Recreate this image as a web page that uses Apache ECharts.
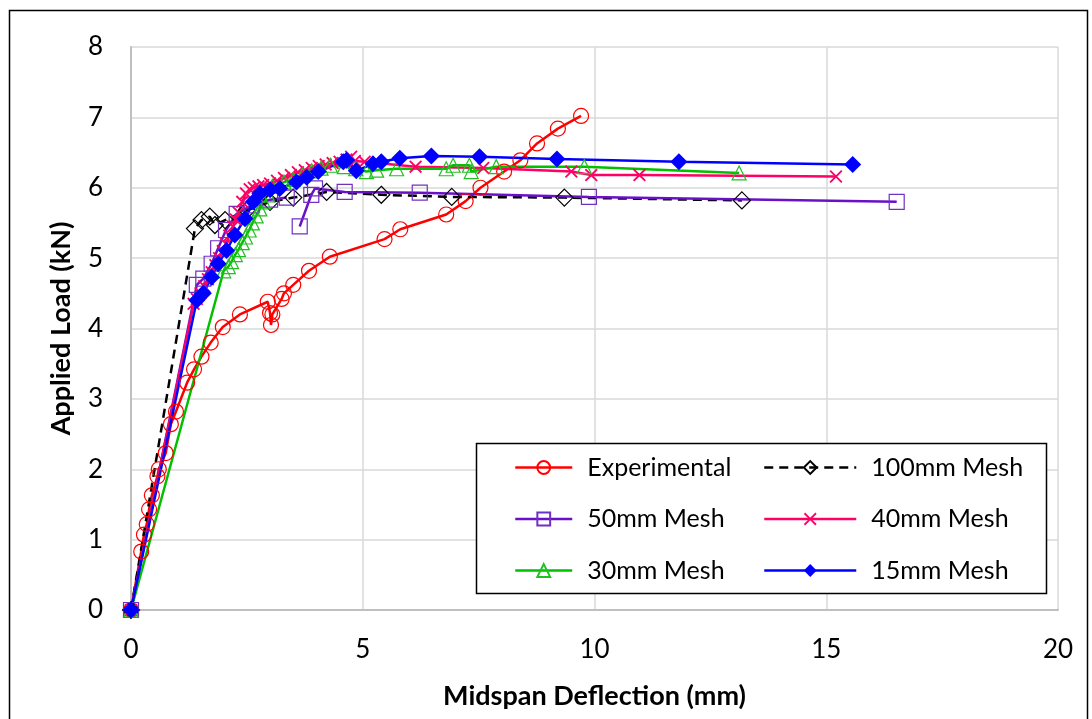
<!DOCTYPE html>
<html>
<head>
<meta charset="utf-8">
<script src="https://cdn.jsdelivr.net/npm/echarts@6/dist/echarts.min.js"></script>
<style>
  html, body { margin: 0; padding: 0; background: #fff; }
  #chart { width: 1092px; height: 719px; }
</style>
</head>
<body>
<div id="chart"></div>
<script>
// 数据：挠度 (mm) 与荷载 (kN)
const expX = [0, 0.22, 0.28, 0.34, 0.39, 0.45, 0.57, 0.6, 0.75, 0.86, 0.97, 1.21, 1.36, 1.52, 1.72, 1.98, 2.35, 2.95, 3.0, 3.02, 3.05, 3.25, 3.3, 3.5, 3.84, 4.29, 5.47, 5.81, 6.8, 7.22, 7.54, 8.05, 8.4, 8.76, 9.21, 9.71];
const expY = [0, 0.83, 1.07, 1.22, 1.43, 1.63, 1.9, 2.0, 2.23, 2.64, 2.82, 3.23, 3.42, 3.6, 3.8, 4.02, 4.2, 4.38, 4.22, 4.05, 4.2, 4.42, 4.5, 4.62, 4.82, 5.02, 5.27, 5.41, 5.62, 5.81, 6.0, 6.23, 6.39, 6.63, 6.84, 7.02];

const m100X = [0, 1.38, 1.52, 1.70, 1.81, 2.03, 2.5, 3.0, 3.5, 4.22, 5.4, 6.92, 9.35, 13.18];
const m100Y = [0, 5.42, 5.54, 5.59, 5.47, 5.54, 5.68, 5.8, 5.86, 5.94, 5.9, 5.87, 5.86, 5.82];

const m50X = [0, 1.42, 1.56, 1.74, 1.88, 2.05, 2.28, 2.6, 3.0, 3.36, null, 3.64, 3.89, 3.97, 4.61, 6.23, 9.88, 16.52];
const m50Y = [0, 4.62, 4.71, 4.92, 5.14, 5.4, 5.63, 5.75, 5.83, 5.86, null, 5.45, 5.9, 5.99, 5.94, 5.93, 5.87, 5.8];

const m40X = [0, 1.35, 1.42, 1.5, 1.58, 1.66, 1.74, 1.82, 1.9, 1.98, 2.05, 2.12, 2.2, 2.26, 2.32, 2.4, 2.48, 2.56, 2.65, 2.75, 2.85, 3.0, 3.15, 3.3, 3.45, 3.6, 3.75, 3.9, 4.05, 4.2, 4.35, 4.5, 4.65, 4.75, 4.83, 5.04, 6.14, 7.6, 9.5, 9.93, 10.97, 15.21];
const m40Y = [0, 4.35, 4.42, 4.5, 4.6, 4.7, 4.8, 4.9, 5.0, 5.1, 5.2, 5.32, 5.45, 5.55, 5.65, 5.8, 5.92, 5.98, 6.0, 6.02, 6.04, 6.06, 6.1, 6.14, 6.18, 6.22, 6.25, 6.28, 6.31, 6.33, 6.35, 6.37, 6.4, 6.44, 6.38, 6.37, 6.3, 6.28, 6.23, 6.18, 6.18, 6.16];

const m30X = [0, 2.0, 2.1, 2.17, 2.25, 2.32, 2.4, 2.47, 2.55, 2.62, 2.7, 2.78, 2.86, 2.95, 3.05, 3.3, 3.5, 3.7, 3.9, 4.1, 4.3, 4.6, 4.85, 5.08, 5.3, 5.73, 6.8, 6.95, 7.3, 7.34, 7.88, 9.78, 13.12];
const m30Y = [0, 4.82, 4.88, 4.95, 5.05, 5.12, 5.22, 5.3, 5.4, 5.5, 5.6, 5.7, 5.8, 5.9, 6.02, 6.08, 6.12, 6.18, 6.24, 6.28, 6.32, 6.3, 6.27, 6.23, 6.25, 6.27, 6.27, 6.32, 6.32, 6.23, 6.3, 6.3, 6.21];

const m15X = [0, 1.42, 1.56, 1.74, 1.88, 2.06, 2.24, 2.46, 2.64, 2.78, 3.0, 3.21, 3.57, 3.79, 4.04, 4.58, 4.65, 4.86, 5.22, 5.4, 5.8, 6.48, 7.52, 9.19, 11.82, 15.57];
const m15Y = [0, 4.4, 4.5, 4.73, 4.92, 5.11, 5.33, 5.56, 5.8, 5.92, 5.97, 5.99, 6.08, 6.15, 6.23, 6.37, 6.39, 6.24, 6.34, 6.37, 6.42, 6.45, 6.44, 6.41, 6.37, 6.33];

const xTicks = [0, 5, 10, 15, 20];
const yTicks = [0, 1, 2, 3, 4, 5, 6, 7, 8];

const pair = (xs, ys) => xs.map((x, i) => (x === null ? [null, null] : [x, ys[i]]));

const FONT = 'Lato';
const crossPath = 'path://M0,1L1,0L5,4L9,0L10,1L6,5L10,9L9,10L5,6L1,10L0,9L4,5Z';

const chart = echarts.init(document.getElementById('chart'));

function lineSeries(name, data, color, symbol, size, extra) {
  return Object.assign({
    name: name,
    type: 'line',
    data: data,
    symbol: symbol,
    symbolSize: size,
    showAllSymbol: true,
    connectNulls: false,
    animation: false,
    lineStyle: { color: color, width: 2.5 },
    itemStyle: { color: 'rgba(0,0,0,0)', borderColor: color, borderWidth: 1.2 },
  }, extra || {});
}

const legendText = { fontFamily: FONT, fontSize: 25, color: '#000', padding: [0, 0, 0, 10] };

const option = {
  backgroundColor: '#fff',
  animation: false,
  grid: { left: 131, right: 34, top: 47, bottom: 109 },
  graphic: [
    { type: 'rect', shape: { x: 9.5, y: 10.5, width: 1078, height: 712 }, style: { fill: 'none', stroke: '#000', lineWidth: 1.5 }, z: 100 },
    { type: 'rect', shape: { x: 476.5, y: 443.5, width: 570, height: 150 }, style: { fill: '#fff', stroke: '#000', lineWidth: 1.5 }, z: 50 },
  ],
  legend: [
    {
      orient: 'vertical', left: 509, top: 450, itemWidth: 57, itemHeight: 16, itemGap: 26.5,
      textStyle: legendText, lineStyle: { width: 2.5 }, z: 60,
      data: ['Experimental', '50mm Mesh', '30mm Mesh'],
    },
    {
      orient: 'vertical', left: 758, top: 450, itemWidth: 92, itemHeight: 16, itemGap: 26.5,
      textStyle: legendText, lineStyle: { width: 2.5 }, z: 60,
      data: ['100mm Mesh', '40mm Mesh', '15mm Mesh'],
    },
  ],
  xAxis: {
    type: 'value', min: 0, max: 20, interval: 5,
    name: 'Midspan Deflection (mm)', nameLocation: 'middle', nameGap: 73,
    nameTextStyle: { fontFamily: FONT, fontSize: 27, fontWeight: 'bold', color: '#000' },
    axisLine: { show: true, onZero: false, lineStyle: { color: '#bfbfbf', width: 2 } },
    axisTick: { show: false },
    axisLabel: { fontFamily: FONT, fontSize: 26, color: '#000', margin: 27,
      formatter: v => (xTicks.includes(v) ? String(v) : '') },
    splitLine: { show: true, lineStyle: { color: '#d9d9d9', width: 1.5 } },
  },
  yAxis: {
    type: 'value', min: 0, max: 8, interval: 1,
    name: 'Applied Load (kN)', nameLocation: 'middle', nameGap: 56, nameRotate: 90,
    nameTextStyle: { fontFamily: FONT, fontSize: 27, fontWeight: 'bold', color: '#000' },
    axisLine: { show: true, onZero: false, lineStyle: { color: '#bfbfbf', width: 2 } },
    axisTick: { show: false },
    axisLabel: { fontFamily: FONT, fontSize: 26, color: '#000', margin: 28,
      formatter: v => (yTicks.includes(v) ? String(v) : '') },
    splitLine: { show: true, lineStyle: { color: '#d9d9d9', width: 1.5 } },
  },
  series: [
    lineSeries('Experimental', pair(expX, expY), '#ff0000', 'circle', 15),
    lineSeries('100mm Mesh', pair(m100X, m100Y), '#000000', 'diamond', 17,
      { lineStyle: { color: '#000', width: 2.5, type: [9, 6] } }),
    lineSeries('50mm Mesh', pair(m50X, m50Y), '#7030c0', 'rect', 15,
      { lineStyle: { color: '#6a10c8', width: 2.5 } }),
    lineSeries('40mm Mesh', pair(m40X, m40Y), '#ff0066', crossPath, 13,
      { itemStyle: { color: '#ff0066', borderWidth: 0 } }),
    lineSeries('30mm Mesh', pair(m30X, m30Y), '#00c000', 'triangle', 14,
      { itemStyle: { color: 'rgba(0,0,0,0)', borderColor: '#20c020', borderWidth: 1.2 }, lineStyle: { color: '#00c000', width: 2.5 } }),
    lineSeries('15mm Mesh', pair(m15X, m15Y), '#0000ff', 'diamond', 17,
      { itemStyle: { color: '#0000ff', borderWidth: 0 } }),
  ],
};

chart.setOption(option);
</script>
</body>
</html>
